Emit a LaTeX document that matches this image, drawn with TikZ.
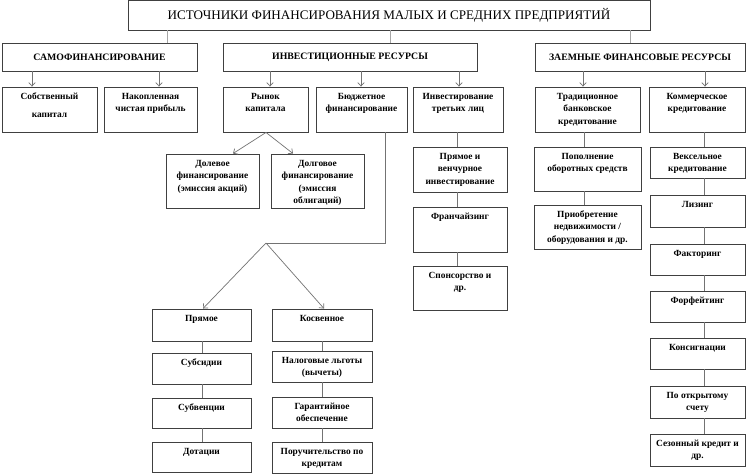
\documentclass[tikz,border=0pt]{standalone}
\usepackage{fontspec}
\setmainfont{Liberation Serif}
\usetikzlibrary{arrows.meta}
\newcommand\boxfont{\fontsize{9.4}{12.5}\selectfont\bfseries}
% top-aligned box
\newcommand\tbx[6]{\node[bx] (#1) at ({(#2+#4)/2},{(#3+#5)/2}) {\parbox[c][\dimexpr#5pt-#3pt\relax][t]{\dimexpr#4pt-#2pt\relax}{\boxfont\centering\vspace*{3.4pt}\strut #6\par}};}
% centred box
\newcommand\cbx[6]{\node[bx] (#1) at ({(#2+#4)/2},{(#3+#5)/2}) {\parbox[c][\dimexpr#5pt-#3pt\relax][c]{\dimexpr#4pt-#2pt\relax}{\centering #6\par}};}
\begin{document}
\begin{tikzpicture}[x=1pt,y=-1pt,
  bx/.style={draw=black!75,line width=0.9pt,inner sep=0pt,fill=white},
  ln/.style={draw=black!55,line width=0.7pt},
  lt/.style={draw=black!35,line width=0.7pt},
  arr/.style={ln,-{Straight Barb[length=3.5pt,width=6.5pt]}}]
\fill[white] (0,0) rectangle (750,474);
\useasboundingbox (0,0) rectangle (750,474);
% title and level 1
\cbx{title}{128}{0.5}{650}{30}{\fontsize{13.1}{15}\selectfont ИСТОЧНИКИ ФИНАНСИРОВАНИЯ МАЛЫХ И СРЕДНИХ ПРЕДПРИЯТИЙ}
\cbx{samo}{2}{43}{197}{71}{\fontsize{9.8}{11}\selectfont\bfseries САМОФИНАНСИРОВАНИЕ}
\cbx{invest}{223}{43}{477}{71}{\fontsize{9.8}{11}\selectfont\bfseries ИНВЕСТИЦИОННЫЕ РЕСУРСЫ}
\cbx{zaem}{535}{43}{745}{71}{\fontsize{9.8}{11}\selectfont\bfseries ЗАЕМНЫЕ ФИНАНСОВЫЕ РЕСУРСЫ}
% level 2
\tbx{sob}{2}{87}{97}{132}{Собственный\\[6pt]капитал}
\tbx{nak}{104}{87}{197}{132}{Накопленная\\чистая прибыль}
\tbx{rynok}{223}{87}{308}{132}{Рынок\\капитала}
\tbx{budget}{316}{87}{407}{132}{Бюджетное\\финансирование}
\tbx{inv3}{413}{87}{503}{132}{Инвестирование\\третьих лиц}
\tbx{trad}{535}{87}{640}{132}{Традиционное\\банковское\\кредитование}
\tbx{komm}{649}{87}{745}{132}{Коммерческое\\кредитование}
% level 3
\tbx{dolev}{166}{154}{259}{208}{Долевое\\финансирование\\(эмиссия акций)}
\tbx{dolgov}{271}{154}{364}{208}{Долговое\\финансирование\\(эмиссия\\облигаций)}
\tbx{pv}{413}{147}{507}{192}{Прямое и\\венчурное\\инвестирование}
\tbx{fran}{413}{207}{507}{252}{Франчайзинг}
\tbx{spons}{413}{266}{507}{310}{Спонсорство и\\др.}
\tbx{popoln}{534}{147}{641}{191}{Пополнение\\оборотных средств}
\tbx{priobr}{534}{205}{641}{249}{Приобретение\\недвижимости /\\оборудования и др.}
\tbx{veks}{650}{147}{745}{178}{Вексельное\\кредитование}
\tbx{lizing}{650}{195}{745}{227}{Лизинг}
\tbx{faktor}{650}{244}{745}{275}{Факторинг}
\tbx{forf}{650}{291}{745}{322}{Форфейтинг}
\tbx{konsig}{650}{338}{745}{369}{Консигнации}
\tbx{otkr}{650}{386}{745}{418}{По открытому\\счету}
\tbx{sezon}{650}{434}{745}{466}{Сезонный кредит и\\др.}
\tbx{pryam}{152}{309}{251}{341}{Прямое}
\tbx{subsid}{152}{353}{251}{384}{Субсидии}
\tbx{subven}{152}{398}{251}{428}{Субвенции}
\tbx{dotac}{152}{442}{251}{472}{Дотации}
\tbx{kosv}{272}{309}{372}{341}{Косвенное}
\tbx{nalog}{272}{351}{372}{382}{Налоговые льготы\\(вычеты)}
\tbx{garant}{272}{397}{372}{428}{Гарантийное\\обеспечение}
\tbx{poruch}{272}{442}{372}{473}{Поручительство по\\кредитам}
% title connectors
\draw[lt] (167,0 |- title.south) -- (167,0 |- samo.north);
\draw[lt] (390,0 |- title.south) -- (390,0 |- invest.north);
\draw[lt] (630,0 |- title.south) -- (630,0 |- zaem.north);
% arrows level1 -> level2
\draw[arr] (32,0 |- samo.south) -- (32,0 |- sob.north);
\draw[arr] (159,0 |- samo.south) -- (159,0 |- nak.north);
\draw[arr] (270,0 |- invest.south) -- (270,0 |- rynok.north);
\draw[arr] (361,0 |- invest.south) -- (361,0 |- budget.north);
\draw[arr] (459,0 |- invest.south) -- (459,0 |- inv3.north);
\draw[arr] (583,0 |- zaem.south) -- (583,0 |- trad.north);
\draw[arr] (705,0 |- zaem.south) -- (705,0 |- komm.north);
% capital market
\draw[arr] (266,0 |- rynok.south) -- (233,0 |- dolev.north);
\draw[arr] (266,0 |- rynok.south) -- (293,0 |- dolgov.north);
% budget financing
\coordinate (bend) at (385,243);
\coordinate (split) at (266,243);
\draw[ln] (385,0 |- budget.south) -- (bend) -- (split);
\draw[arr] (split) -- (203,0 |- pryam.north);
\draw[arr] (split) -- (324,0 |- kosv.north);
% column connectors
\foreach \a/\b in {inv3/pv,pv/fran,fran/spons}
  \draw[ln] (457,0 |- \a.south) -- (457,0 |- \b.north);
\foreach \a/\b in {trad/popoln,popoln/priobr}
  \draw[ln] (584,0 |- \a.south) -- (584,0 |- \b.north);
\foreach \a/\b in {komm/veks,veks/lizing,lizing/faktor,faktor/forf,forf/konsig,konsig/otkr,otkr/sezon}
  \draw[ln] (704,0 |- \a.south) -- (704,0 |- \b.north);
\foreach \a/\b in {pryam/subsid,subsid/subven,subven/dotac}
  \draw[ln] (202,0 |- \a.south) -- (202,0 |- \b.north);
\foreach \a/\b in {kosv/nalog,nalog/garant,garant/poruch}
  \draw[ln] (322,0 |- \a.south) -- (322,0 |- \b.north);
\end{tikzpicture}
\end{document}
